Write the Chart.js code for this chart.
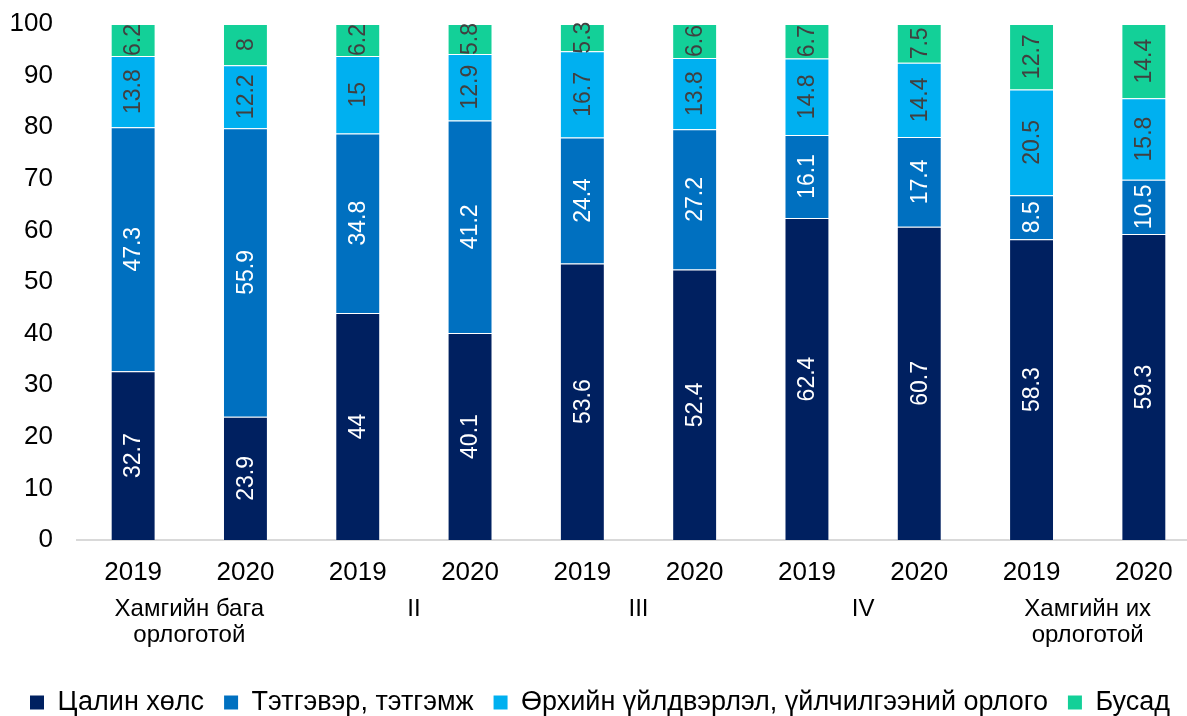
<!DOCTYPE html>
<html>
<head>
<meta charset="utf-8">
<script src="https://cdn.jsdelivr.net/npm/chart.js@4"></script>
<style>
  html, body { margin: 0; padding: 0; background: #fff; overflow: hidden; }
  #wrap { width: 1187px; height: 716px; overflow: hidden; }
</style>
</head>
<body>
<div id="wrap"><canvas id="chart" width="1200" height="726"></canvas></div>
<script>
const years = ['2019', '2020', '2019', '2020', '2019', '2020', '2019', '2020', '2019', '2020'];
const groups = [['Хамгийн бага', 'орлоготой'], 'II', 'III', 'IV', ['Хамгийн их', 'орлоготой']];

const seriesNames = ['Цалин хөлс', 'Тэтгэвэр, тэтгэмж', 'Өрхийн үйлдвэрлэл, үйлчилгээний орлого', 'Бусад'];
const wages    = [32.7, 23.9, 44, 40.1, 53.6, 52.4, 62.4, 60.7, 58.3, 59.3];
const pensions = [47.3, 55.9, 34.8, 41.2, 24.4, 27.2, 16.1, 17.4, 8.5, 10.5];
const business = [13.8, 12.2, 15, 12.9, 16.7, 13.8, 14.8, 14.4, 20.5, 15.8];
const other    = [6.2, 8, 6.2, 5.8, 5.3, 6.6, 6.7, 7.5, 12.7, 14.4];
const yTicks   = [0, 10, 20, 30, 40, 50, 60, 70, 80, 90, 100];

const colors = ['#002060', '#0070C0', '#00B0F0', '#13D098'];
const labelColors = ['#ffffff', '#ffffff', '#404040', '#404040'];
const FONT = '"Liberation Sans", Arial, sans-serif';

// value labels inside the bars, turned on their side
const barLabels = {
  id: 'barLabels',
  afterDatasetsDraw(chart) {
    const ctx = chart.ctx;
    ctx.save();
    ctx.font = '23px ' + FONT;
    ctx.textAlign = 'center';
    ctx.textBaseline = 'middle';
    chart.data.datasets.forEach((ds, i) => {
      chart.getDatasetMeta(i).data.forEach((bar, j) => {
        ctx.save();
        ctx.translate(bar.x, (bar.y + bar.base) / 2);
        ctx.rotate(-Math.PI / 2);
        ctx.fillStyle = labelColors[i];
        ctx.fillText(String(ds.data[j]), 0, 1);
        ctx.restore();
      });
    });
    ctx.restore();
  }
};

const data = [wages, pensions, business, other];

new Chart(document.getElementById('chart'), {
  type: 'bar',
  data: {
    labels: years,
    datasets: seriesNames.map((name, i) => ({
      label: name,
      data: data[i],
      backgroundColor: colors[i],
      borderColor: 'rgba(255,255,255,0.3)',
      borderWidth: 1,
      barPercentage: 0.4,
      categoryPercentage: 1
    }))
  },
  options: {
    responsive: false,
    animation: false,
    layout: { padding: 0 },
    plugins: {
      tooltip: { enabled: false },
      legend: {
        position: 'bottom',
        labels: {
          font: { family: FONT, size: 27 },
          color: '#000',
          boxWidth: 14,
          boxHeight: 14,
          padding: 20,
          generateLabels(chart) {
            return chart.data.datasets.map((ds, i) => ({
              text: ds.label,
              fillStyle: colors[i],
              strokeStyle: colors[i],
              lineWidth: 0,
              datasetIndex: i
            }));
          }
        }
      }
    },
    scales: {
      x: {
        stacked: true,
        weight: 0,
        grid: { display: false, drawTicks: false },
        border: { display: true, color: '#D9D9D9', width: 2 },
        ticks: { font: { family: FONT, size: 26 }, color: '#000', padding: 17, maxRotation: 0 },
        afterFit(scale) { scale.height = 50; }
      },
      x2: {
        type: 'category',
        labels: groups,
        offset: true,
        position: 'bottom',
        weight: 1,
        grid: { display: false, drawTicks: false },
        border: { display: false },
        ticks: { font: { family: FONT, size: 24, lineHeight: 1.1 }, color: '#000', padding: 6, maxRotation: 0, autoSkip: false },
        afterFit(scale) { scale.height = 79; }
      },
      y: {
        stacked: true,
        min: 0,
        max: 100,
        afterBuildTicks(scale) { scale.ticks = yTicks.map(v => ({ value: v })); },
        grid: { display: false, drawTicks: false },
        border: { display: false },
        ticks: { font: { family: FONT, size: 26 }, color: '#000', padding: 24 },
        afterFit(scale) {
          scale.width = 77;
          scale.paddingTop = 24;
        }
      }
    }
  },
  plugins: [barLabels]
});
</script>
</body>
</html>
